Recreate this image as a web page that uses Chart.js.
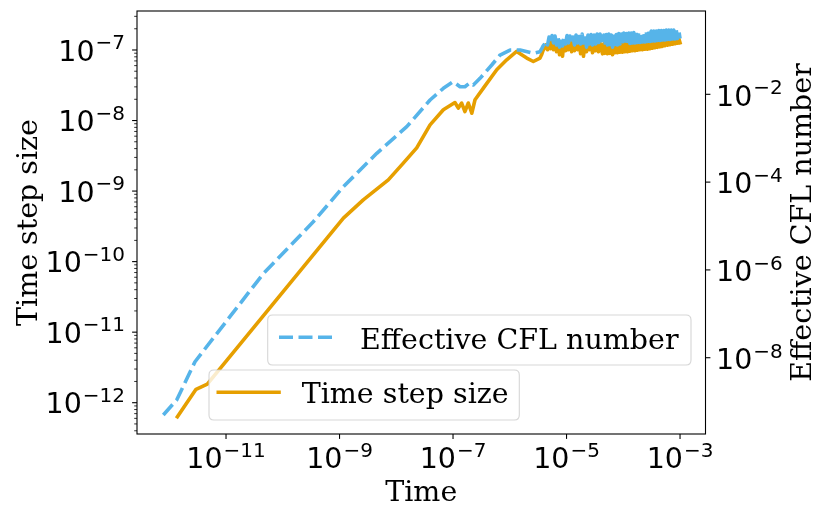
<!DOCTYPE html>
<html><head><meta charset="utf-8">
<script src="https://cdn.jsdelivr.net/npm/chart.js@4.4.1/dist/chart.umd.min.js"></script>
<style>html,body{margin:0;padding:0;background:#fff}#wrap{width:831px;height:519px;position:relative}</style>
</head><body><div id="wrap"><canvas id="c"></canvas></div>
<script>
// ---- data ----
// early part of each run (own sample times per series)
const cflTimeEarly = [7.85e-13, 1.35e-12, 2.84e-12, 4.49e-11, 3.45e-10, 1.17e-9, 4.53e-9, 1.53e-8, 3.94e-8, 6.75e-8,
  1.01e-7, 1.33e-7, 1.62e-7, 2.0e-7, 2.28e-7, 2.99e-7, 4.81e-7, 6.73e-7, 1.01e-6, 1.52e-6,
  2.60e-6, 3.41e-6];
const cflEarly = [4.95e-10, 1.09e-9, 8.1e-9, 8.07e-7, 1.25e-5, 7.85e-5, 4.53e-4, 1.83e-3, 7.41e-3, 1.37e-2,
  1.94e-2, 1.49e-2, 1.49e-2, 1.84e-2, 1.63e-2, 2.31e-2, 4.65e-2, 7.85e-2, 0.102, 0.102,
  8.59e-2, 9.33e-2];
const dtTimeEarly = [1.39e-12, 2.96e-12, 4.68e-12, 1.17e-9, 2.62e-9, 7.24e-9, 1.33e-8, 2.29e-8, 3.94e-8, 6.75e-8,
  1.08e-7, 1.24e-7, 1.42e-7, 1.62e-7, 1.86e-7, 2.14e-7, 2.44e-7, 3.66e-7, 5.89e-7, 8.83e-7,
  1.32e-6, 1.99e-6, 2.60e-6, 3.41e-6];
const dtEarly = [6.33e-13, 1.55e-12, 1.84e-12, 4.13e-10, 7.50e-10, 1.44e-9, 2.49e-9, 4.10e-9, 8.69e-9, 1.42e-8,
  1.80e-8, 1.50e-8, 1.77e-8, 1.34e-8, 1.77e-8, 1.27e-8, 1.97e-8, 3.10e-8, 5.24e-8, 7.26e-8,
  9.53e-8, 7.67e-8, 6.87e-8, 7.67e-8];
// spiky middle part (shared sample times)
const midTime = [3.63e-6, 3.85e-6, 4.10e-6, 4.35e-6, 4.63e-6, 4.92e-6, 5.23e-6, 5.55e-6, 5.90e-6, 6.27e-6,
  6.67e-6, 7.08e-6, 7.53e-6, 8.00e-6, 8.50e-6, 9.04e-6, 9.60e-6, 1.02e-5, 1.08e-5, 1.15e-5,
  1.23e-5, 1.30e-5, 1.38e-5, 1.47e-5, 1.56e-5, 1.66e-5, 1.77e-5, 1.88e-5, 1.99e-5, 2.12e-5,
  2.25e-5, 2.39e-5, 2.54e-5, 2.70e-5, 2.87e-5, 3.05e-5, 3.24e-5, 3.45e-5, 3.66e-5, 3.89e-5];
const cflMid = [0.108, 0.126, 0.140, 0.164, 0.133, 0.202, 0.140, 0.218, 0.148, 0.213,
  0.133, 0.202, 0.119, 0.192, 0.126, 0.2075, 0.140, 0.218, 0.148, 0.213,
  0.140, 0.202, 0.133, 0.224, 0.148, 0.230, 0.140, 0.237, 0.148, 0.230,
  0.119, 0.224, 0.140, 0.230, 0.133, 0.224, 0.140, 0.237, 0.136, 0.237];
const dtMid = [8.55e-8, 9.75e-8, 1.074e-7, 1.186e-7, 1.007e-7, 1.306e-7, 1.040e-7, 1.396e-7, 1.007e-7, 1.306e-7,
  9.44e-8, 1.265e-7, 8.55e-8, 1.225e-7, 8.15e-8, 1.352e-7, 9.75e-8, 1.442e-7, 1.007e-7, 1.352e-7,
  9.44e-8, 1.265e-7, 9.75e-8, 1.306e-7, 1.007e-7, 1.352e-7, 8.83e-8, 1.306e-7, 8.15e-8, 1.327e-7,
  9.44e-8, 1.306e-7, 1.007e-7, 1.306e-7, 9.12e-8, 1.306e-7, 9.75e-8, 1.306e-7, 9.44e-8, 1.265e-7];
// late, dense oscillating part (shared sample times)
const lateTime = [4.31e-5, 4.53e-5, 4.77e-5, 5.01e-5, 5.27e-5, 5.55e-5, 5.83e-5, 6.14e-5, 6.46e-5, 6.79e-5,
  7.14e-5, 7.52e-5, 7.91e-5, 8.32e-5, 8.75e-5, 9.20e-5, 9.68e-5, 1.02e-4, 1.07e-4, 1.13e-4,
  1.19e-4, 1.25e-4, 1.31e-4, 1.38e-4, 1.45e-4, 1.53e-4, 1.61e-4, 1.69e-4, 1.78e-4, 1.87e-4,
  1.97e-4, 2.07e-4, 2.18e-4, 2.30e-4, 2.42e-4, 2.54e-4, 2.67e-4, 2.81e-4, 2.96e-4, 3.11e-4,
  3.27e-4, 3.44e-4, 3.62e-4, 3.81e-4, 4.01e-4, 4.22e-4, 4.44e-4, 4.67e-4, 4.91e-4, 5.16e-4,
  5.43e-4, 5.71e-4, 6.01e-4, 6.32e-4, 6.65e-4, 7.00e-4, 7.36e-4, 7.74e-4, 8.15e-4, 8.57e-4,
  9.02e-4, 9.48e-4, 1.0e-3];
const cflLate = [0.133, 0.224, 0.126, 0.230, 0.133, 0.237, 0.136, 0.224, 0.119, 0.237,
  0.136, 0.230, 0.133, 0.242, 0.140, 0.237, 0.136, 0.249, 0.140, 0.242,
  0.144, 0.249, 0.144, 0.249, 0.148, 0.255, 0.148, 0.255, 0.151, 0.262,
  0.151, 0.262, 0.155, 0.262, 0.155, 0.270, 0.160, 0.270, 0.160, 0.277,
  0.164, 0.277, 0.164, 0.277, 0.168, 0.284, 0.168, 0.284, 0.173, 0.284,
  0.173, 0.292, 0.177, 0.292, 0.177, 0.292, 0.182, 0.292, 0.182, 0.292,
  0.187, 0.292, 0.187];
const dtLate = [8.83e-8, 1.225e-7, 8.97e-8, 1.245e-7, 8.83e-8, 1.265e-7, 8.97e-8, 1.225e-7, 8.55e-8, 1.265e-7,
  9.12e-8, 1.265e-7, 9.12e-8, 1.285e-7, 9.27e-8, 1.265e-7, 9.27e-8, 1.306e-7, 9.44e-8, 1.306e-7,
  9.44e-8, 1.306e-7, 9.59e-8, 1.327e-7, 9.75e-8, 1.327e-7, 9.75e-8, 1.352e-7, 9.91e-8, 1.352e-7,
  1.007e-7, 1.352e-7, 1.007e-7, 1.373e-7, 1.023e-7, 1.373e-7, 1.023e-7, 1.396e-7, 1.040e-7, 1.396e-7,
  1.057e-7, 1.396e-7, 1.074e-7, 1.419e-7, 1.091e-7, 1.419e-7, 1.109e-7, 1.419e-7, 1.127e-7, 1.442e-7,
  1.148e-7, 1.442e-7, 1.167e-7, 1.442e-7, 1.186e-7, 1.466e-7, 1.205e-7, 1.466e-7, 1.225e-7, 1.466e-7,
  1.245e-7, 1.466e-7, 1.265e-7];
const xTickExponents = [-11, -9, -7, -5, -3];
const leftTickExponents = [-12, -11, -10, -9, -8, -7];
const rightTickExponents = [-8, -6, -4, -2];
const cflLabel = 'Effective CFL number';
const dtLabel = 'Time step size';
const xTitle = 'Time';
const xRange = [2.70e-13, 2.81e-3];
const leftRange = [3.60e-13, 3.57e-7];
const rightRange = [1.83e-10, 0.790];

const BLUE = '#56B4E9', ORANGE = '#E69F00';
const SERIF = '"DejaVu Serif", serif';
const SANS = '"DejaVu Sans", sans-serif';
const FS = 28.5, FSUP = 20;
const LW = 3.6;

function powLabel(ctx, exp, x, y, align) {
  const base = '10', sup = '\u2212' + Math.abs(exp);
  ctx.font = FS + 'px ' + SANS; const wb = ctx.measureText(base).width;
  ctx.font = FSUP + 'px ' + SANS; const ws = ctx.measureText(sup).width;
  const w = wb + ws + 1;
  const x0 = align === 'center' ? x - w / 2 : align === 'right' ? x - w : x;
  ctx.textAlign = 'left'; ctx.textBaseline = 'alphabetic'; ctx.fillStyle = '#000';
  ctx.font = FS + 'px ' + SANS; ctx.fillText(base, x0, y);
  ctx.font = FSUP + 'px ' + SANS; ctx.fillText(sup, x0 + wb + 1, y - 11.5);
}

function roundRect(ctx, x, y, w, h, r) {
  ctx.beginPath();
  ctx.moveTo(x + r, y); ctx.lineTo(x + w - r, y); ctx.quadraticCurveTo(x + w, y, x + w, y + r);
  ctx.lineTo(x + w, y + h - r); ctx.quadraticCurveTo(x + w, y + h, x + w - r, y + h);
  ctx.lineTo(x + r, y + h); ctx.quadraticCurveTo(x, y + h, x, y + h - r);
  ctx.lineTo(x, y + r); ctx.quadraticCurveTo(x, y, x + r, y); ctx.closePath();
}

const decor = {
  id: 'decor',
  afterDatasetsDraw(chart) {
    const ctx = chart.ctx, a = chart.chartArea;
    const sx = chart.scales.x, sy = chart.scales.y, sy2 = chart.scales.y2;
    ctx.save();
    ctx.strokeStyle = '#000'; ctx.fillStyle = '#000';
    ctx.lineWidth = 1.1;
    ctx.strokeRect(a.left, a.top, a.right - a.left, a.bottom - a.top);
    xTickExponents.forEach(e => {
      const px = sx.getPixelForValue(Math.pow(10, e));
      ctx.lineWidth = 1.1; ctx.beginPath(); ctx.moveTo(px, a.bottom); ctx.lineTo(px, a.bottom + 4.9); ctx.stroke();
      powLabel(ctx, e, px, 468, 'center');
    });
    leftTickExponents.forEach(e => {
      const py = sy.getPixelForValue(Math.pow(10, e));
      ctx.lineWidth = 1.1; ctx.beginPath(); ctx.moveTo(a.left, py); ctx.lineTo(a.left - 4.9, py); ctx.stroke();
      powLabel(ctx, e, 125, py + 10.7, 'right');
    });
    ctx.lineWidth = 0.8;
    for (let n = -13; n <= -7; n++) {
      for (let k = 2; k <= 9; k++) {
        const v = k * Math.pow(10, n);
        if (v < sy.min || v > sy.max) continue;
        const py = sy.getPixelForValue(v);
        ctx.beginPath(); ctx.moveTo(a.left, py); ctx.lineTo(a.left - 2.8, py); ctx.stroke();
      }
    }
    rightTickExponents.forEach(e => {
      const py = sy2.getPixelForValue(Math.pow(10, e));
      ctx.lineWidth = 1.1; ctx.beginPath(); ctx.moveTo(a.right, py); ctx.lineTo(a.right + 4.9, py); ctx.stroke();
      powLabel(ctx, e, 716, py + 11.3, 'left');
    });
    ctx.font = FS + 'px ' + SERIF; ctx.textAlign = 'center'; ctx.textBaseline = 'alphabetic';
    ctx.fillText(xTitle, (a.left + a.right) / 2, 501);
    ctx.save(); ctx.translate(30, (a.top + a.bottom) / 2); ctx.rotate(-Math.PI / 2);
    ctx.textBaseline = 'middle'; ctx.fillText(dtLabel, 0, 0); ctx.restore();
    ctx.save(); ctx.translate(804, (a.top + a.bottom) / 2); ctx.rotate(-Math.PI / 2);
    ctx.textBaseline = 'middle'; ctx.fillText(cflLabel, 0, 0); ctx.restore();
    const legends = [
      {box: [267.7, 315, 423.3, 50], color: BLUE, dash: [14, 5.5], ly: 337.3, lx: [279, 335.7], tx: 360, tb: 348.5, text: cflLabel},
      {box: [209, 370, 310.3, 50], color: ORANGE, dash: [], ly: 392.3, lx: [218.3, 279], tx: 301.7, tb: 403, text: dtLabel}
    ];
    legends.forEach(L => {
      roundRect(ctx, L.box[0], L.box[1], L.box[2], L.box[3], 5);
      ctx.fillStyle = 'rgba(255,255,255,0.8)'; ctx.fill();
      ctx.strokeStyle = 'rgba(204,204,204,0.8)'; ctx.lineWidth = 1.1; ctx.stroke();
      ctx.strokeStyle = L.color; ctx.lineWidth = LW; ctx.setLineDash(L.dash);
      ctx.lineCap = L.dash.length ? 'butt' : 'square';
      ctx.beginPath(); ctx.moveTo(L.lx[0], L.ly); ctx.lineTo(L.lx[1], L.ly); ctx.stroke();
      ctx.setLineDash([]);
      ctx.fillStyle = '#000'; ctx.font = FS + 'px ' + SERIF; ctx.textAlign = 'left'; ctx.textBaseline = 'alphabetic';
      ctx.fillText(L.text, L.tx, L.tb);
    });
    ctx.restore();
  }
};

const toPts = (xs, ys) => xs.map((x, i) => ({x: x, y: ys[i]}));

new Chart(document.getElementById('c'), {
  type: 'scatter',
  data: {
    datasets: [
      {label: cflLabel, data: toPts(cflTimeEarly.concat(midTime, lateTime), cflEarly.concat(cflMid, cflLate)), yAxisID: 'y2',
       showLine: true, borderColor: BLUE, backgroundColor: BLUE, borderWidth: LW, borderDash: [14, 5.5], borderCapStyle: 'butt',
       borderJoinStyle: 'round', pointRadius: 0, tension: 0},
      {label: dtLabel, data: toPts(dtTimeEarly.concat(midTime, lateTime), dtEarly.concat(dtMid, dtLate)), yAxisID: 'y',
       showLine: true, borderColor: ORANGE, backgroundColor: ORANGE, borderWidth: LW, borderCapStyle: 'square',
       borderJoinStyle: 'round', pointRadius: 0, tension: 0}
    ]
  },
  options: {
    responsive: true, maintainAspectRatio: false, animation: false, devicePixelRatio: 1,
    layout: {padding: {left: 137, top: 11, right: 125.5, bottom: 85}},
    plugins: {legend: {display: false}, tooltip: {enabled: false}},
    scales: {
      x: {type: 'logarithmic', min: xRange[0], max: xRange[1], display: false},
      y: {type: 'logarithmic', position: 'left', min: leftRange[0], max: leftRange[1], display: false},
      y2: {type: 'logarithmic', position: 'right', min: rightRange[0], max: rightRange[1], display: false}
    }
  },
  plugins: [decor]
});
</script>
</body></html>
